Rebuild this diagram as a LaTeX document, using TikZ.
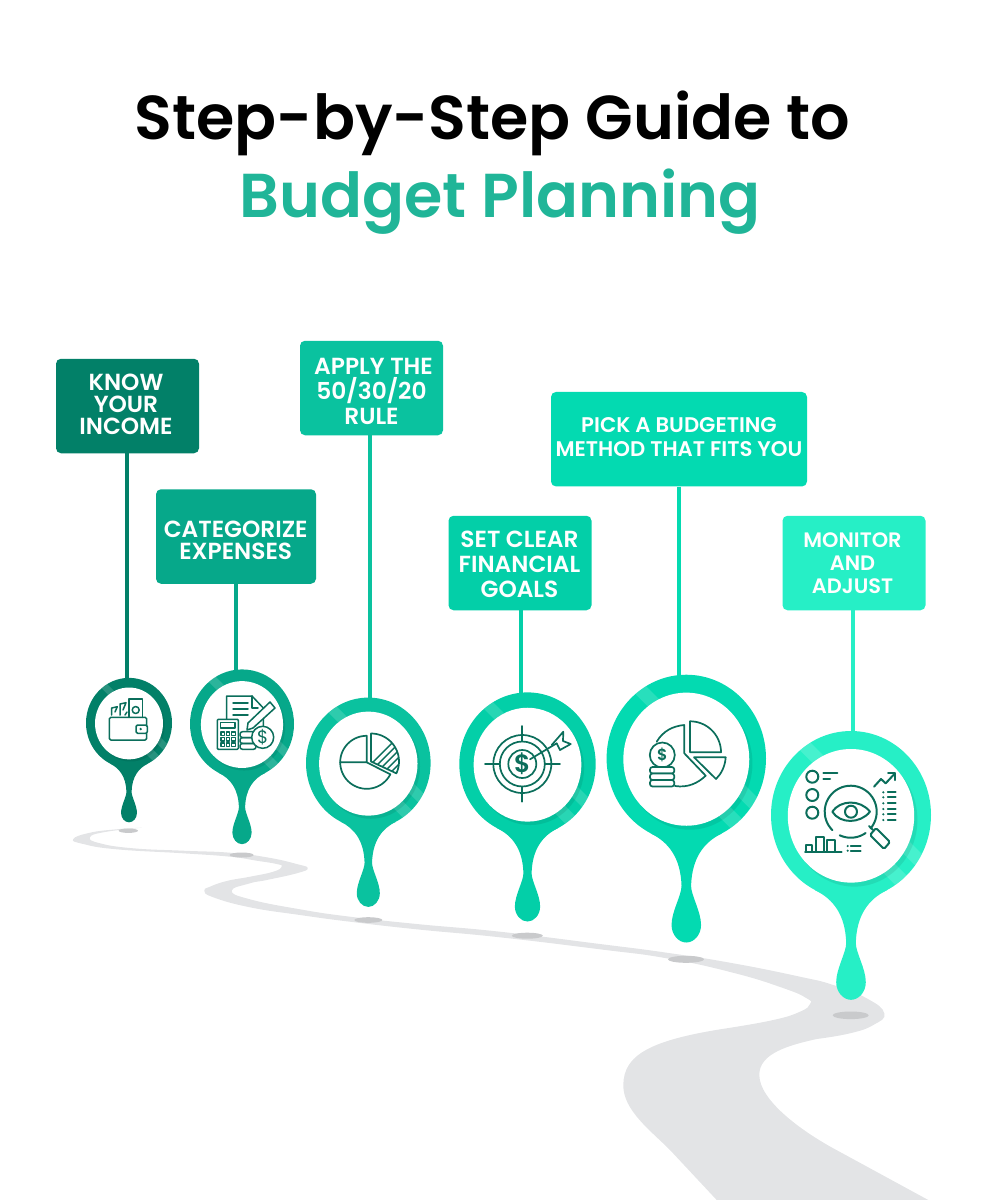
\documentclass[tikz,border=0pt]{standalone}
\usepackage{fontspec}
\setmainfont{Poppins}[BoldFont={Poppins SemiBold}]
\usetikzlibrary{positioning}

\definecolor{stepone}{HTML}{028068}
\definecolor{steptwo}{HTML}{06A88A}
\definecolor{stepthree}{HTML}{0AC29F}
\definecolor{stepfour}{HTML}{03CFA8}
\definecolor{stepfive}{HTML}{03DAB1}
\definecolor{stepsix}{HTML}{26EFC6}
\definecolor{titlegreen}{HTML}{20B598}
\definecolor{roadgray}{HTML}{E3E4E6}
\definecolor{shadowgray}{HTML}{C9CACC}
\definecolor{iconink}{HTML}{0B6E5B}

\tikzset{
  stepbox/.style={fill=#1,rounded corners=5,inner sep=0,minimum height=94.5},
  steplabel/.style={text=white,align=center,inner sep=0,font=\bfseries\fontsize{23.3}{#1}\selectfont},
  stem/.style={line width=3.3,draw=#1},
  icon/.style={draw=iconink,line width=1.7,line join=round,line cap=round},
  arcpts/.style={domain=#1,samples=40,smooth},
}

% one pin: centre x, centre y, radius, colour
\newcommand{\pindrop}[4]{
  \begin{scope}[shift={(#1,#2)},scale=#3]
    \fill[#4] (0,0) ellipse [x radius=1,y radius=1.05];
    \fill[#4] (-.45,.94) .. controls (-.22,1.05) and (-.07,1.25) .. (-.06,1.6)
      .. controls (-.06,1.72) and (-.185,1.92) .. (-.185,2.09)
      .. controls (-.185,2.21) and (-.1,2.31) .. (0,2.31)
      .. controls (.1,2.31) and (.185,2.21) .. (.185,2.09)
      .. controls (.185,1.92) and (.06,1.72) .. (.06,1.6)
      .. controls (.07,1.25) and (.22,1.05) .. (.45,.94) -- cycle;
    \begin{scope}
      \clip (0,0) ellipse [x radius=1,y radius=1.05];
      \fill[white,opacity=.15] (-1.2,-1.37) -- (1.2,1.03) -- (1.2,.8) -- (-1.2,-1.6) -- cycle;
      \fill[white,opacity=.15] (0,.06) -- (1.2,1.26) -- (1.2,1.52) -- (0,.32) -- cycle;
      \fill[black,opacity=.08] (.04,.06) ellipse [x radius=.79,y radius=.835];
    \end{scope}
    \fill[white] (0,.01) ellipse [x radius=.79,y radius=.835];
  \end{scope}
}

\begin{document}
\begin{tikzpicture}[x=1pt,y=-1pt]
\useasboundingbox (0,0) rectangle (1000,1200);

% road
\fill[roadgray] plot[smooth,tension=.8] coordinates {(141.7,827.7) (105,832) (90,837.3) (100,843.3) (133.3,848.3) (183.3,850.7)
    (230,852.7) (266.7,857.3) (296.7,864) (307.7,868.3) (296.7,873.3) (266.7,880) (250,883.3) (231.7,890.7)
    (250,899.3) (300,909.3) (350,916.7) (416.7,924) (500,931.7) (600,944) (666.7,952.7) (733.3,963.3)
    (800,976.7) (833.3,985) (866.7,998.3) (884.3,1013.3) (873.3,1025) (850,1033.3) (816.7,1039)}
  .. controls (790,1045) and (759,1053) .. (759.3,1075)
  .. controls (759.5,1100) and (800,1130) .. (833.3,1148.3) -- (928.3,1200)
  -- (716.7,1200) -- (670,1150)
  .. controls (650,1130) and (623,1110) .. (623.3,1085)
  .. controls (623.5,1055) and (650,1040) .. (726.7,1028.3)
  -- plot[smooth,tension=.8] coordinates {(726.7,1028.3) (773.3,1020) (800,1011.7) (810,1004) (806.7,998.3) (783,988) (733,972.7)
    (666.7,958.3) (600,949.3) (500,937.3) (416.7,929.3) (350,921.7) (300,915) (250,907.3) (213.3,897.3)
    (204.3,890.7) (210,886.7) (226.7,881) (250,876.7) (273.3,871.7) (281.7,866.7) (276.7,864) (256.7,860.7)
    (230,856.7) (183.3,853.3) (116.7,849.3) (83.3,844) (73.3,839) (90,832.7) (116.7,829.3) (141.7,827.7)}
  -- cycle;

\foreach \x/\y/\rx/\ry in {128.3/830.7/9.7/2.2, 241.7/855/12/2.5, 368.3/920/14/2.8, 527.3/935.7/15.5/3, 686/959.3/18/3.5, 850.7/1015.3/18/3.8}
  \fill[shadowgray] (\x,\y) ellipse [x radius=\rx,y radius=\ry];

% title
\node[font=\bfseries\fontsize{62}{62}\selectfont,anchor=base] (titleone) at (492.5,139.5) {Step-by-Step Guide to};
\node[font=\bfseries\fontsize{62}{62}\selectfont,anchor=base,text=titlegreen] (titletwo) at (500,217) {Budget Planning};

% boxes
\node[stepbox,fill=stepone,minimum width=143] (income) at (127.5,406) {};
\node[stepbox,fill=steptwo,minimum width=160] (expenses) at (236,536.5) {};
\node[stepbox,fill=stepthree,minimum width=143] (rule) at (371.5,388) {};
\node[stepbox,fill=stepfour,minimum width=143] (goals) at (520,563) {};
\node[stepbox,fill=stepfive,minimum width=256] (method) at (679,439.2) {};
\node[stepbox,fill=stepsix,minimum width=143] (adjust) at (854,563) {};

\node[steplabel=22] (incomelabel) at (126,404.5) {KNOW\\YOUR\\INCOME};
\node[steplabel=22] (expenseslabel) at (235.7,540) {CATEGORIZE\\EXPENSES};
\node[steplabel=25] (rulelabel) at (371.5,391.7) {\hspace*{4pt}APPLY THE\\50/30/20\hspace*{5pt}\\RULE};
\node[steplabel=25] (goalslabel) at (519.5,564.3) {SET CLEAR\\FINANCIAL\\GOALS};
\node[steplabel=23.3,font=\bfseries\fontsize{21.2}{23.3}\selectfont] (methodlabel) at (679,437) {PICK A BUDGETING\\METHOD THAT FITS YOU};
\node[steplabel=22.7,font=\bfseries\fontsize{20.9}{22.7}\selectfont] (adjustlabel) at (852.5,563.3) {MONITOR\\AND\\ADJUST};

% stems, then pins on top of them
\coordinate (incomepin) at (127,682);
\coordinate (expensespin) at (236,673);
\coordinate (rulepin) at (370,701);
\coordinate (goalspin) at (521,696);
\coordinate (methodpin) at (679,679);
\coordinate (adjustpin) at (853,735);
\foreach \a/\col in {income/stepone,expenses/steptwo,rule/stepthree,goals/stepfour,method/stepfive,adjust/stepsix}
  \draw[stem=\col] (\a.south -| \a pin) -- (\a pin);

\foreach \x/\y/\R/\col in {129/723/43/stepone, 242/724/52/steptwo, 368.3/763/62.3/stepthree, 527.5/764/68.2/stepfour, 686.3/758.4/79.7/stepfive, 851/815/80/stepsix} {
  \pindrop{\x}{\y}{\R}{\col}
}

% wallet
\draw[icon,line width=1.5,rounded corners=1.5] (109.3,717.3) rectangle (146.7,740);
\draw[icon,line width=1.5,fill=white,rounded corners=1.5] (136,725) rectangle (147.3,733.3);
\fill[iconink] (140.7,729) circle (1.3);
\draw[icon,line width=1.5] (129,717.3) -- (129,699) -- (142.7,699) -- (142.7,717.3);
\draw[icon,line width=1.5] (135.7,710) circle (3.5);
\draw[icon,line width=1.5] (111.7,715) -- (111.7,708) -- (117.3,706.7) -- (115,712);
\draw[icon,line width=1.5] (120,715) -- (120,704) -- (126,702.7) -- (123,710);
\draw[icon,line width=1.5] (125,715) -- (127,712);

% document and calculator
\draw[icon,line width=1.5] (226.7,719) -- (226.7,696) -- (252,696) -- (263.3,708) -- (263.3,730);
\draw[icon,line width=1.5] (252,696) -- (252,708) -- (258,708);
\foreach \y in {703,709,715}
  \draw[icon,line width=1.5] (233,\y) -- (248,\y);
\draw[icon,line width=1.5,fill=white] (248,723) -- (270,702) -- (275,708) -- (253,728) -- (247,730) -- cycle;
\draw[icon,line width=1.5,fill=white,rounded corners=1] (217.3,719.3) rectangle (238.3,749.3);
\draw[icon,line width=1.5] (220.5,722.3) rectangle (235,728);
\foreach \x in {221,226.3,231.6}
  \foreach \y in {732,737.5,743}
    \draw[icon,line width=1.2] (\x,\y) rectangle +(3.5,3.5);
\foreach \y in {731.7,737.6,743.4}
  \draw[icon,line width=1.5,rounded corners=2.5] (240,\y) rectangle (256,\y+5.9);
\draw[icon,line width=1.5,fill=white] (262.7,737.3) circle (11);
\node[text=iconink,font=\fontsize{18}{18}\selectfont] (dollartwo) at (262.7,737.3) {\$};

% pie chart
\draw[icon] (366.7,762.3) -- plot[arcpts=-90:-180] ({366.7+26.5*cos(\x)},{762.3+26.5*sin(\x)}) -- cycle;
\draw[icon] plot[arcpts=180:27] ({366.7+26.5*cos(\x)},{762.3+26.5*sin(\x)}) -- (366.7,762.3);
\begin{scope}
  \clip (371,761.5) -- plot[arcpts=-90:25] ({371+28*cos(\x)},{761.5+28*sin(\x)}) -- cycle;
  \foreach \k in {0,7,...,70}
    \draw[icon,line width=1.4] (345+\k,790) -- (345+\k+60,730);
\end{scope}
\draw[icon] (371,761.5) -- plot[arcpts=-90:25] ({371+28*cos(\x)},{761.5+28*sin(\x)}) -- cycle;

% target
\foreach \r in {14,22.5,29}
  \draw[icon] (522.3,764) circle (\r);
\draw[icon] (485,764) -- (500,764) (545,764) -- (560,764) (522.3,726) -- (522.3,741.5) (522.3,786.5) -- (522.3,801.7);
\draw[icon] (530,759.3) -- (556.7,743.3);
\draw[icon] (551.7,745) -- (563.3,731.7) -- (563,741) -- (570.7,744) -- (560,750) -- (556.7,743.3);
\node[text=iconink,font=\bfseries\fontsize{25}{25}\selectfont] (dollarfour) at (522.3,764) {\$};

% coins and pie
\draw[icon] (690,752.3) -- plot[arcpts=-90:0] ({690+31*cos(\x)},{752.3+31*sin(\x)}) -- cycle;
\draw[icon] (694,757.3) -- (725.7,757.3) .. controls (725,767) and (721,774) .. (716,779) -- cycle;
\draw[icon] (656.7,741.7) .. controls (663,731) and (673,726) .. (684.3,725) -- (684.3,753.3) -- (705.7,775.7) .. controls (698,783) and (688,788) .. (675,786);
\draw[icon,fill=white] (662.3,755) circle (12.5);
\node[text=iconink,font=\bfseries\fontsize{16}{16}\selectfont] (dollarfive) at (662.3,755) {\$};
\foreach \y in {767,773.5,780}
  \draw[icon,fill=white,rounded corners=2.5] (650,\y) rectangle (674.3,\y+6.5);

% magnifier and charts
\foreach \y in {776.7,795,812.7}
  \draw[icon,line width=2] (812.3,\y) circle (6);
\draw[icon,line width=2] (823.3,773.3) -- (837.3,773.3) (823.3,779) -- (830,779);
\draw[icon,line width=2] plot[arcpts=135:400] ({850.7+26*cos(\x)},{811.7+26*sin(\x)});
\draw[icon,line width=2] plot[arcpts=55:115] ({850.7+26*cos(\x)},{811.7+26*sin(\x)});
\draw[icon,line width=2] (869,826) -- (873,830);
\draw[icon,line width=2,rounded corners=1.5] (870,835) -- (884,849) -- (890,842) -- (876,828) -- cycle;
\draw[icon,line width=2] (832.3,811.7) .. controls (840,800) and (860,799) .. (870,811.7) .. controls (860,824) and (840,824) .. (832.3,811.7) -- cycle;
\draw[icon,line width=2] (851,811.7) circle (6);
\draw[icon,line width=2] (874,786.7) -- (881,779) -- (885.7,783.3) -- (895,773.3);
\draw[icon,line width=2] (888,773.3) -- (895,773.3) -- (895,780);
\foreach \y in {792.3,797.3,803.3,809,814.3,820} {
  \fill[iconink] (883.3,\y) circle (1.2);
  \draw[icon,line width=1.8] (887.7,\y) -- (895.7,\y);
}
\draw[icon,line width=2] (806,851.7) -- (806,845) -- (811.7,845) -- (811.7,851.7) (816,851.7) -- (816,836.7) -- (824.3,836.7) -- (824.3,851.7) (826.7,851.7) -- (826.7,840) -- (835,840) -- (835,851.7);
\draw[icon,line width=2] (805,851.7) -- (841.7,851.7);
\foreach \y in {846,850.7} {
  \fill[iconink] (847.7,\y) circle (1.2);
  \draw[icon,line width=1.8] (850.7,\y) -- (860.7,\y);
}

\end{tikzpicture}
\end{document}
